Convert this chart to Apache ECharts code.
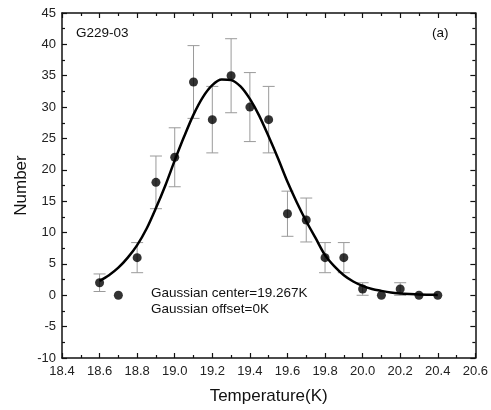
<!DOCTYPE html>
<html>
<head>
<meta charset="utf-8">
<script src="https://cdn.jsdelivr.net/npm/echarts@6/dist/echarts.min.js"></script>
<style>
html,body{margin:0;padding:0;background:#fff;}
#chart{width:491px;height:410px;}
</style>
</head>
<body>
<div id="chart"></div>
<script>
// Measured data points (temperature, count) and their error bars
var temps = [18.6, 18.7, 18.8, 18.9, 19.0, 19.1, 19.2, 19.3, 19.4, 19.5, 19.6, 19.7, 19.8, 19.9, 20.0, 20.1, 20.2, 20.3, 20.4];
var counts = [2, 0, 6, 18, 22, 34, 28, 35, 30, 28, 13, 12, 6, 6, 1, 0, 1, 0, 0];
var errLow = [0.6, 0, 3.6, 13.8, 17.3, 28.2, 22.7, 29.1, 24.5, 22.7, 9.4, 8.5, 3.6, 3.6, 0, 0, 0, 0, 0];
var errHigh = [3.4, 0, 8.4, 22.2, 26.7, 39.8, 33.3, 40.9, 35.5, 33.3, 16.6, 15.5, 8.4, 8.4, 2, 0, 2, 0, 0];

// Fitted Gaussian curve
var fitT = [18.60, 18.65, 18.70, 18.75, 18.80, 18.85, 18.90, 18.95, 19.00, 19.05, 19.10, 19.15, 19.20, 19.25, 19.30, 19.35, 19.40, 19.45, 19.50, 19.55, 19.60, 19.65, 19.70, 19.75, 19.80, 19.85, 19.90, 19.95, 20.00, 20.05, 20.10, 20.15, 20.20, 20.25, 20.30, 20.35, 20.40];
var fitV = [2.3, 3.2, 4.4, 6.0, 8.0, 10.6, 13.9, 17.5, 21.5, 25.3, 28.8, 31.6, 33.5, 34.4, 34.3, 33.3, 31.3, 28.6, 25.3, 21.8, 18.1, 14.8, 11.8, 9.1, 6.4, 4.6, 3.2, 2.2, 1.5, 1.0, 0.7, 0.45, 0.3, 0.2, 0.12, 0.08, 0.05];

var xMin = 18.4, xMax = 20.6, xStep = 0.2;
var yMin = -10, yMax = 45, yStep = 5;

var font = '"Liberation Sans", Arial, sans-serif';

var pts = temps.map(function (t, i) { return [t, counts[i]]; });
var errs = temps.map(function (t, i) { return [t, errLow[i], errHigh[i]]; })
  .filter(function (d) { return d[2] > d[1]; });
var fit = fitT.map(function (t, i) { return [t, fitV[i]]; });

var chart = echarts.init(document.getElementById('chart'));

function xAx(pos, show) {
  return {
    type: 'value', position: pos, min: xMin, max: xMax, interval: xStep,
    axisLine: { show: true, onZero: false, lineStyle: { color: '#111', width: 1.5 } },
    axisTick: { show: true, inside: true, length: 5, lineStyle: { color: '#111', width: 1.2 } },
    minorTick: { show: true, splitNumber: 2, length: 3, lineStyle: { color: '#111', width: 1.2 } },
    splitLine: { show: false },
    axisLabel: { show: show, margin: 7, color: '#222', fontSize: 13, fontFamily: font,
      formatter: function (v) { return v.toFixed(1); } },
    name: show ? 'Temperature(K)' : '', nameLocation: 'middle', nameGap: 30,
    nameMoveOverlap: false,
    nameTextStyle: { fontSize: 17, color: '#111', fontFamily: font }
  };
}
function yAx(pos, show) {
  return {
    type: 'value', position: pos, min: yMin, max: yMax, interval: yStep,
    axisLine: { show: true, onZero: false, lineStyle: { color: '#111', width: 1.5 } },
    axisTick: { show: true, inside: true, length: 5, lineStyle: { color: '#111', width: 1.2 } },
    minorTick: { show: true, splitNumber: 2, length: 3, lineStyle: { color: '#111', width: 1.2 } },
    splitLine: { show: false },
    axisLabel: { show: show, margin: 6, color: '#222', fontSize: 13, fontFamily: font },
    name: show ? 'Number' : '', nameLocation: 'middle', nameGap: 32,
    nameMoveOverlap: false,
    nameTextStyle: { fontSize: 17, color: '#111', fontFamily: font }
  };
}

chart.setOption({
  animation: false,
  backgroundColor: '#fff',
  grid: { left: 62, right: 15, top: 13, bottom: 49 },
  xAxis: [xAx('bottom', true), xAx('top', false)],
  yAxis: [yAx('left', true), yAx('right', false)],
  graphic: [
    { type: 'text', left: 76, top: 26, style: { text: 'G229-03', font: '13.5px ' + font, fill: '#111' } },
    { type: 'text', left: 432, top: 26, style: { text: '(a)', font: '13.5px ' + font, fill: '#111' } },
    { type: 'text', left: 151, top: 285, style: { text: 'Gaussian center=19.267K\nGaussian offset=0K', font: '13.5px ' + font, fill: '#111', lineHeight: 16 } }
  ],
  series: [
    {
      type: 'custom',
      xAxisIndex: 0, yAxisIndex: 0,
      data: errs,
      z: 1,
      renderItem: function (params, api) {
        var x = api.value(0);
        var lo = api.coord([x, api.value(1)]);
        var hi = api.coord([x, api.value(2)]);
        var w = 6;
        var st = { stroke: '#9a9a9a', lineWidth: 1 };
        return {
          type: 'group',
          children: [
            { type: 'line', shape: { x1: lo[0], y1: lo[1], x2: hi[0], y2: hi[1] }, style: st },
            { type: 'line', shape: { x1: lo[0] - w, y1: lo[1], x2: lo[0] + w, y2: lo[1] }, style: st },
            { type: 'line', shape: { x1: hi[0] - w, y1: hi[1], x2: hi[0] + w, y2: hi[1] }, style: st }
          ]
        };
      }
    },
    {
      type: 'line',
      data: fit,
      smooth: 0.3,
      showSymbol: false,
      z: 2,
      lineStyle: { color: '#000', width: 2.5 }
    },
    {
      type: 'scatter',
      data: pts,
      symbol: 'circle',
      symbolSize: 9,
      z: 3,
      itemStyle: { color: '#000' }
    }
  ]
});
</script>
</body>
</html>
